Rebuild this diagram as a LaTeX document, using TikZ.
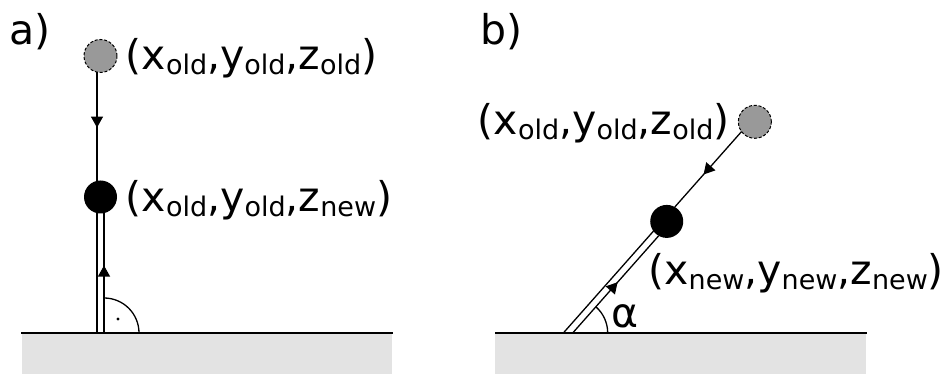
\documentclass[tikz,border=0pt]{standalone}
\usepackage{fontspec}
\setmainfont{DejaVu Sans}
\usetikzlibrary{arrows.meta,decorations.markings,calc}

\tikzset{
  pnt/.style={circle, minimum size=33pt, inner sep=0pt},
  oldpnt/.style={pnt, draw, dash pattern=on 3pt off 1.8pt, line width=1pt, fill=black!40},
  newpnt/.style={pnt, fill=black},
  midarrow/.style={postaction={decorate}, decoration={markings,
      mark=at position #1 with {\arrow{Triangle[width=12pt,length=11pt]}}}},
  lbl/.style={inner sep=0pt, font=\fontsize{41}{41}\selectfont},
  ground/.style={fill=black!11, draw=none},
}
\newcommand{\lowtext}[1]{\raisebox{-0.11em}{\fontsize{27}{27}\selectfont #1}}

\begin{document}
\begin{tikzpicture}[x=1pt, y=1pt, line width=1.3pt, line join=round]
	\useasboundingbox (0,0) rectangle (950,374);
	% sticks: a) upright, b) tilted
	\foreach \nm/\fx/\rot/\dnew/\dold/\pa/\pb in {a/100.5/0/136/277/0.51/0.59, b/568/-41.5/149/282/0.57/0.56}{
		\begin{scope}[shift={(\fx,41)}, rotate=\rot]
			\node[newpnt] (new\nm) at (0,\dnew) {};
			\node[oldpnt] (old\nm) at (0,\dold) {};
			\coordinate (foot\nm) at (0,0);
			\coordinate (oldbot\nm) at (-3.5,\dold-16.1);
			\coordinate (newtop\nm) at (-3.5,\dnew+16.1);
			\coordinate (newbotL\nm) at (-3.5,\dnew-16.1);
			\coordinate (newbotR\nm) at (3.5,\dnew-16.1);
			\coordinate (gndL\nm) at (-3.5,-8);
			\coordinate (gndR\nm) at (3.5,-8);
			\draw[midarrow=\pa] (oldbot\nm) -- (newtop\nm);
			\draw (gndL\nm) -- (newbotL\nm);
			\draw[midarrow=\pb] (gndR\nm) -- (newbotR\nm);
		\end{scope}
	}
	% ground
	\fill[ground] (22,0) rectangle (392,41);
	\fill[ground] (495,0) rectangle (866,41);
	\draw (21,41) -- (393,41);
	\draw (495,41) -- (867,41);
	% angles
	\draw ([xshift=3.5]foota) ++(35,0) arc[start angle=0, end angle=90, radius=35];
	\fill ([shift={(17.5,14)}]foota) circle (1.7);
	\draw ([xshift=4.7]footb) ++(35,0) arc[start angle=0, end angle=48.5, radius=35];
	% labels
	\node[lbl, anchor=base west] (lblolda) at ($(olda.east)+(7.6,-14)$) {(x\lowtext{old},y\lowtext{old},z\lowtext{old})};
	\node[lbl, anchor=base west] (lblnewa) at ($(newa.east)+(7.6,-15)$) {(x\lowtext{old},y\lowtext{old},z\lowtext{new})};
	\node[lbl, anchor=base east] (lbloldb) at ($(oldb.west)+(-7.8,-13)$) {(x\lowtext{old},y\lowtext{old},z\lowtext{old})};
	\node[lbl, anchor=base west] (lblnewb) at ($(newb.south)+(-19,-46)$) {(x\lowtext{new},y\lowtext{new},z\lowtext{new})};
	\node[lbl, anchor=base west] (alpha) at ($(footb)+(43,5)$) {α};
	\node[lbl, anchor=base west] (pana) at (9,329) {a)};
	\node[lbl, anchor=base west] (panb) at (480,329) {b)};
\end{tikzpicture}
\end{document}
